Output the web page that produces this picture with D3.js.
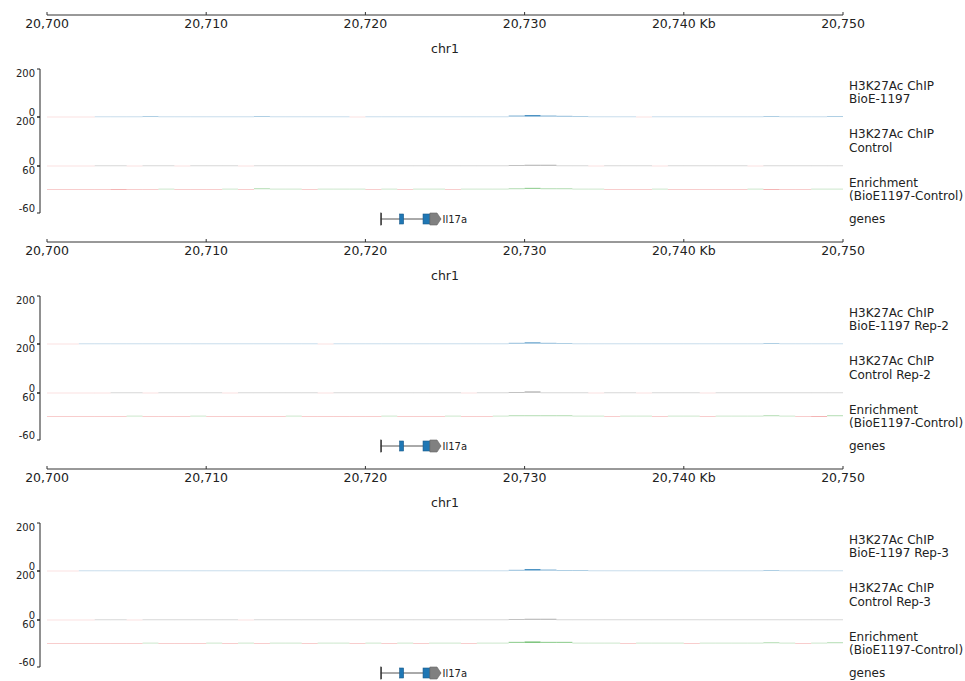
<!DOCTYPE html>
<html>
<head>
<meta charset="utf-8">
<script src="https://cdn.jsdelivr.net/npm/d3@7"></script>
<style>
  body { margin: 0; background: #fff; }
  text { font-family: "DejaVu Sans", sans-serif; fill: #222; }
</style>
</head>
<body>
<div id="container"></div>
<script>
// region shown, in Kb
let regionStart = 20700;
let regionEnd = 20750;
let xTicks = [20700, 20710, 20720, 20730, 20740, 20750];
let chromName = "chr1";

// 1 Kb bins, starting at 20,700
let chip1 = [-1,-1,-1,1,1,1,2,1,1,1, 1,1,1,2,1,1,1,1,1,-1, 1,1,1,1,1,1,1,1,1,4, 6,4,3,2,1,1,1,-1,1,1, 1,1,1,1,1,2,1,1,1,2];
let ctrl1 = [-1,-1,-1,1,1,-1,1,1,-1,1, 1,1,-1,1,1,1,1,1,1,1, 1,1,1,1,1,1,1,1,1,2, 3,3,1,1,-1,1,1,1,-1,1, 1,1,1,1,-1,1,1,1,1,1];
let enr1 = [-1,-1,-1,-1,-2,-1,-1,1,-1,-1, -1,1,-1,2,1,1,-1,1,1,1, -1,1,-1,1,1,-1,1,1,1,2, 3,2,2,1,1,-1,-1,-1,1,-1, -1,-1,-1,-1,1,-2,-1,-1,1,1];

let chip2 = [-1,-1,1,1,1,1,1,1,1,1, 1,1,1,1,1,1,1,-1,1,1, 1,1,1,1,1,1,1,1,1,3, 5,3,2,1,1,1,1,1,1,1, 1,1,1,1,1,2,1,1,1,1];
let ctrl2 = [-1,-1,-1,-1,1,1,-1,1,1,1, 1,-1,1,1,1,1,1,-1,1,1, 1,1,1,1,1,1,-1,1,1,2, 4,1,1,1,-1,1,1,-1,1,1, 1,-1,1,1,1,1,1,1,1,1];
let enr2 = [-1,-1,-1,-1,-1,1,-1,-1,-1,1, -1,-1,-1,-1,-1,1,-1,-1,-1,-1, -1,1,-1,-1,-1,1,-1,-1,1,2, 2,2,2,1,1,-1,1,1,-1,1, 1,-1,1,1,1,2,1,-1,-2,2];

let chip3 = [-1,-1,1,1,1,1,1,1,1,1, 1,1,1,1,1,1,1,1,1,1, 1,1,1,1,1,1,1,1,1,3, 6,4,2,2,1,1,1,1,1,1, 1,1,1,1,1,2,1,1,1,1];
let ctrl3 = [-1,-1,-1,1,1,-1,1,1,1,1, 1,1,-1,1,1,1,1,1,1,1, 1,1,1,1,1,1,1,1,1,2, 3,3,1,1,1,1,1,1,1,1, 1,1,1,1,1,1,1,1,1,1];
let enr3 = [-1,-1,-1,-1,-1,-1,1,-1,-1,-1, 1,-1,1,-1,1,1,-1,1,1,-1, 1,-1,1,-1,1,1,-1,1,1,3, 4,3,3,1,1,1,-1,1,1,1, -1,1,1,1,1,2,1,-1,1,2];

let panelTitles = [
  ["H3K27Ac ChIP", "BioE-1197"],
  ["H3K27Ac ChIP", "BioE-1197 Rep-2"],
  ["H3K27Ac ChIP", "BioE-1197 Rep-3"]
];
let controlTitles = [
  ["H3K27Ac ChIP", "Control"],
  ["H3K27Ac ChIP", "Control Rep-2"],
  ["H3K27Ac ChIP", "Control Rep-3"]
];
let enrichTitle = ["Enrichment", "(BioE1197-Control)"];
let chipData = [chip1, chip2, chip3];
let ctrlData = [ctrl1, ctrl2, ctrl3];
let enrData = [enr1, enr2, enr3];

let chipRange = [0, 200];
let enrRange = [-60, 60];

// gene Il17a
let geneName = "Il17a";
let geneStart = 20720.96;
let geneEnd = 20724.75;
let exonStarts = [20720.96, 20722.15, 20723.62];
let exonEnds = [20721.02, 20722.40, 20724.75];
let cdsStart = 20722.15;
let cdsEnd = 20724.05;

let w = 965;
let h = 681;
let panelStep = 227;

let svg = d3.select("#container")
  .append("svg")
  .attr("width", w)
  .attr("height", h)
  .style("display", "block");

svg.append("rect").attr("width", w).attr("height", h).attr("fill", "#fff");

let x = d3.scaleLinear().domain([regionStart, regionEnd]).range([47, 843]);

function drawYAxis(g, top, bottom, labels) {
  g.append("path")
    .attr("d", "M37," + top + "H40V" + bottom + "H37")
    .attr("fill", "none")
    .attr("stroke", "#222")
    .attr("stroke-width", 1);
  g.append("text").attr("x", 35).attr("y", top + 8)
    .attr("text-anchor", "end").style("font-size", "10px").text(labels[0]);
  g.append("text").attr("x", 35).attr("y", bottom - 1.5)
    .attr("text-anchor", "end").style("font-size", "10px").text(labels[1]);
}

function drawLabel(g, cy, lines) {
  let t = g.append("text").attr("x", 849).style("font-size", "12px");
  let y0 = cy - (lines.length - 1) * 13.5 / 2;
  lines.forEach(function(l, i) {
    t.append("tspan").attr("x", 849).attr("y", y0 + i * 13.5).attr("dy", "0.35em").text(l);
  });
}

function drawSignal(g, data, y, posColor, negColor) {
  let zero = y(0);
  g.selectAll(".bin")
    .data(data)
    .enter()
    .append("rect")
    .attr("x", function(d, i) { return x(regionStart + i); })
    .attr("width", function(d, i) { return x(regionStart + i + 1) - x(regionStart + i); })
    .attr("y", function(d) { return Math.min(y(d), zero) - 0.5; })
    .attr("height", function(d) { return Math.max(1, Math.abs(y(d) - zero)); })
    .attr("fill", function(d) { return d >= 0 ? posColor : negColor; })
    .attr("opacity", function(d) { return Math.min(0.85, 0.12 + 0.12 * Math.abs(d)); });
}

function drawGene(g, cy) {
  g.append("line")
    .attr("x1", x(geneStart)).attr("x2", x(geneEnd))
    .attr("y1", cy).attr("y2", cy)
    .attr("stroke", "#555").attr("stroke-width", 1);
  exonStarts.forEach(function(s, i) {
    let e = exonEnds[i];
    let parts = [];
    if (s < cdsStart) parts.push([s, Math.min(e, cdsStart), "utr"]);
    if (e > cdsStart && s < cdsEnd) parts.push([Math.max(s, cdsStart), Math.min(e, cdsEnd), "cds"]);
    if (e > cdsEnd) parts.push([Math.max(s, cdsEnd), e, "utr"]);
    parts.forEach(function(p) {
      let x1 = x(p[0]), x2 = Math.max(x(p[1]), x1 + 1);
      if (p[2] === "cds") {
        g.append("rect").attr("x", x1).attr("y", cy - 5).attr("width", x2 - x1).attr("height", 10)
          .attr("fill", "#1f77b4").attr("stroke", "#1a5a8a").attr("stroke-width", 0.6);
      } else if (p[1] === geneEnd) {
        let tip = 4;
        g.append("path")
          .attr("d", "M" + x1 + "," + (cy - 6) + "H" + (x2 - tip) + "L" + x2 + "," + cy +
            "L" + (x2 - tip) + "," + (cy + 6) + "H" + x1 + "Z")
          .attr("fill", "#808080").attr("stroke", "#666").attr("stroke-width", 0.6);
      } else {
        g.append("rect").attr("x", x1).attr("y", cy - 6).attr("width", x2 - x1).attr("height", 12)
          .attr("fill", "#444").attr("stroke", "#333").attr("stroke-width", 0.6);
      }
    });
  });
  g.append("text").attr("x", x(geneEnd) + 1.5).attr("y", cy).attr("dy", "0.35em")
    .style("font-size", "10px").text(geneName);
}

for (let p = 0; p < 3; p++) {
  let g = svg.append("g").attr("transform", "translate(0," + (p * panelStep) + ")");

  // top scale
  let ax = g.append("g").attr("transform", "translate(0,15)");
  ax.append("line").attr("x1", x(regionStart)).attr("x2", x(regionEnd))
    .attr("y1", 0).attr("y2", 0).attr("stroke", "#333").attr("stroke-width", 1);
  ax.selectAll(".tk").data(xTicks).enter().append("line")
    .attr("x1", function(d) { return x(d); }).attr("x2", function(d) { return x(d); })
    .attr("y1", 0).attr("y2", -3).attr("stroke", "#333");
  ax.selectAll(".tl").data(xTicks).enter().append("text")
    .attr("x", function(d) { return x(d); }).attr("y", 9).attr("dy", "0.35em")
    .attr("text-anchor", "middle").style("font-size", "12.5px")
    .text(function(d, i) {
      let s = d3.format(",")(d);
      return i === xTicks.length - 2 ? s + " Kb" : s;
    });
  g.append("text").attr("x", 445).attr("y", 49).attr("dy", "0.35em")
    .attr("text-anchor", "middle").style("font-size", "12.5px").text(chromName);

  // ChIP track
  let y1 = d3.scaleLinear().domain(chipRange).range([117, 69]);
  let t1 = g.append("g");
  drawYAxis(t1, 69, 117, ["200", "0"]);
  drawSignal(t1, chipData[p], y1, "#1f77b4", "#f08080");
  drawLabel(t1, 92.5, panelTitles[p]);

  // control track
  let y2 = d3.scaleLinear().domain(chipRange).range([166, 117]);
  let t2 = g.append("g");
  drawYAxis(t2, 117, 166, ["200", "0"]);
  drawSignal(t2, ctrlData[p], y2, "#555555", "#f08080");
  drawLabel(t2, 141, controlTitles[p]);

  // enrichment track
  let y3 = d3.scaleLinear().domain(enrRange).range([213, 166]);
  let t3 = g.append("g");
  drawYAxis(t3, 166, 213, ["60", "-60"]);
  drawSignal(t3, enrData[p], y3, "#2ca02c", "#e03030");
  drawLabel(t3, 189.5, enrichTitle);

  // genes
  let t4 = g.append("g");
  drawGene(t4, 219);
  drawLabel(t4, 219, ["genes"]);
}
</script>
</body>
</html>
